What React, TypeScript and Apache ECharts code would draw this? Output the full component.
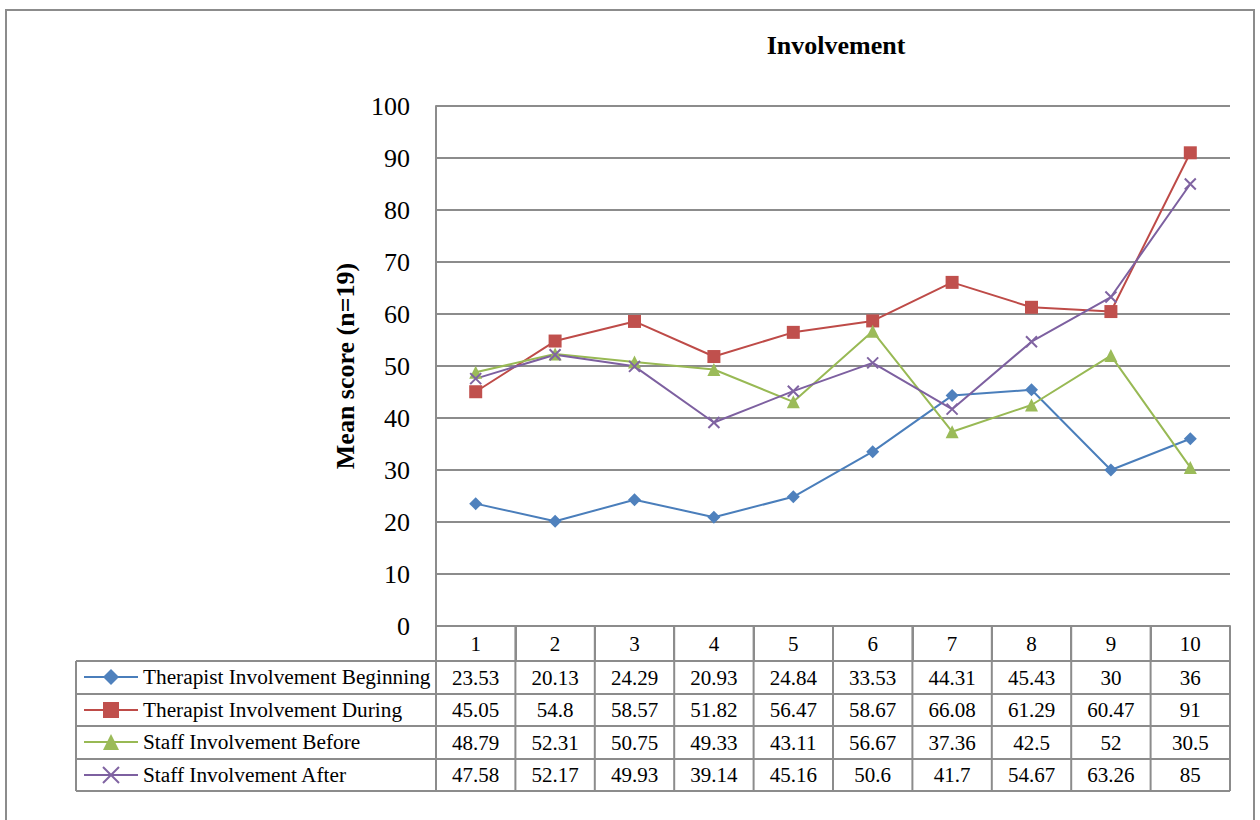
import React, { useEffect, useRef } from "react";
import * as echarts from "echarts";

const categories = ["1", "2", "3", "4", "5", "6", "7", "8", "9", "10"];
const seriesNames = [
  "Therapist Involvement Beginning",
  "Therapist Involvement During",
  "Staff Involvement Before",
  "Staff Involvement After",
];
const therapistBeginning = [23.53, 20.13, 24.29, 20.93, 24.84, 33.53, 44.31, 45.43, 30, 36];
const therapistDuring = [45.05, 54.8, 58.57, 51.82, 56.47, 58.67, 66.08, 61.29, 60.47, 91];
const staffBefore = [48.79, 52.31, 50.75, 49.33, 43.11, 56.67, 37.36, 42.5, 52, 30.5];
const staffAfter = [47.58, 52.17, 49.93, 39.14, 45.16, 50.6, 41.7, 54.67, 63.26, 85];
const yTicks = { min: 0, max: 100, interval: 10 };

const lineColors = ["#4A7EBB", "#BE4B48", "#98B954", "#7D60A0"];
const markColors = ["#4F81BD", "#C0504D", "#9BBB59", "#8064A2"];
const symbols = ["diamond", "rect", "triangle", "path://M0,0L10,10M10,0L0,10"];
const symbolSizes = [13, 13, 13, 11];

const FONT = "'Liberation Serif', 'Times New Roman', serif";
const GRID = { left: 436, top: 106, right: 30, bottom: 194 };
const TABLE = { left: 76, headerTop: 627, rowTops: [661, 694, 726, 759], bottom: 791 };
const GRAY = "#8c8c8c";

export default function App() {
  const ref = useRef<HTMLDivElement>(null);
  useEffect(() => {
    if (!ref.current) return;
    const chart = echarts.init(ref.current, null, { renderer: "svg" });
    const allData = [therapistBeginning, therapistDuring, staffBefore, staffAfter];
    const series = allData.map((d, i) => ({
      name: seriesNames[i],
      type: "line",
      data: d,
      symbol: symbols[i],
      symbolSize: symbolSizes[i],
      lineStyle: { color: lineColors[i], width: 2 },
      itemStyle:
        i === 3
          ? { color: markColors[i], borderColor: markColors[i], borderWidth: 2 }
          : { color: markColors[i] },
      z: 3,
    }));
    const legends = seriesNames.map((n, i) => ({
      data: [n],
      orient: "horizontal",
      left: 83,
      top: TABLE.rowTops[i] + 5.5,
      padding: 0,
      itemWidth: 54,
      itemHeight: 20,
      itemGap: 5,
      selectedMode: false,
      lineStyle: { width: 2 },
      textStyle: { fontFamily: FONT, fontSize: 21.3, color: "#000" },
    }));
    chart.setOption({
      animation: false,
      backgroundColor: "#fff",
      title: {
        text: "Involvement",
        left: 831,
        top: 27,
        textAlign: "center",
        textStyle: { fontFamily: FONT, fontSize: 26, fontWeight: "bold", color: "#000" },
      },
      legend: legends,
      grid: GRID,
      xAxis: {
        type: "category",
        data: categories,
        boundaryGap: true,
        axisLine: { lineStyle: { color: GRAY, width: 2 } },
        axisTick: { show: true, length: 34, lineStyle: { color: GRAY, width: 2 } },
        axisLabel: { margin: 7, fontFamily: FONT, fontSize: 21, color: "#000" },
      },
      yAxis: {
        type: "value",
        min: yTicks.min,
        max: yTicks.max,
        interval: yTicks.interval,
        name: "Mean score (n=19)",
        nameLocation: "middle",
        nameGap: 78,
        nameTextStyle: { fontFamily: FONT, fontSize: 26, fontWeight: "bold", color: "#000" },
        axisLine: { show: true, lineStyle: { color: GRAY, width: 2 } },
        axisTick: { show: false },
        axisLabel: { margin: 26, fontFamily: FONT, fontSize: 26, color: "#000" },
        splitLine: { lineStyle: { color: GRAY, width: 2 } },
      },
      series,
    });

    const centers = categories.map((_, i) => chart.convertToPixel({ xAxisIndex: 0 }, i) as number);
    const band = centers.length > 1 ? centers[1] - centers[0] : 80;
    const colLeft = centers[0] - band / 2;
    const colRight = centers[centers.length - 1] + band / 2;
    const graphics: any[] = [];
    graphics.push({
      type: "rect",
      shape: { x: 6, y: 10, width: 1248, height: 830 },
      style: { fill: "none", stroke: GRAY, lineWidth: 2 },
      z: 0,
    });
    [...TABLE.rowTops, TABLE.bottom].forEach((y) => {
      graphics.push({
        type: "line",
        shape: { x1: TABLE.left, y1: y, x2: colRight, y2: y },
        style: { stroke: GRAY, lineWidth: 2 },
      });
    });
    graphics.push({
      type: "line",
      shape: { x1: TABLE.left, y1: TABLE.rowTops[0], x2: TABLE.left, y2: TABLE.bottom },
      style: { stroke: GRAY, lineWidth: 2 },
    });
    for (let i = 0; i <= categories.length; i++) {
      const x = colLeft + i * band;
      graphics.push({
        type: "line",
        shape: { x1: x, y1: TABLE.headerTop, x2: x, y2: TABLE.bottom },
        style: { stroke: GRAY, lineWidth: 2 },
      });
    }
    allData.forEach((d, r) => {
      const rowTop = TABLE.rowTops[r];
      const rowBottom = r < 3 ? TABLE.rowTops[r + 1] : TABLE.bottom;
      d.forEach((v, c) => {
        graphics.push({
          type: "text",
          x: centers[c],
          y: (rowTop + rowBottom) / 2,
          style: {
            text: String(v),
            fontFamily: FONT,
            fontSize: 21,
            fill: "#000",
            align: "center",
            verticalAlign: "middle",
          },
        });
      });
    });
    chart.setOption({ graphic: graphics });
    return () => chart.dispose();
  }, []);
  return (
    <div
      ref={ref}
      style={{ position: "fixed", left: 0, top: 0, width: 1260, height: 820, background: "#fff" }}
    />
  );
}
